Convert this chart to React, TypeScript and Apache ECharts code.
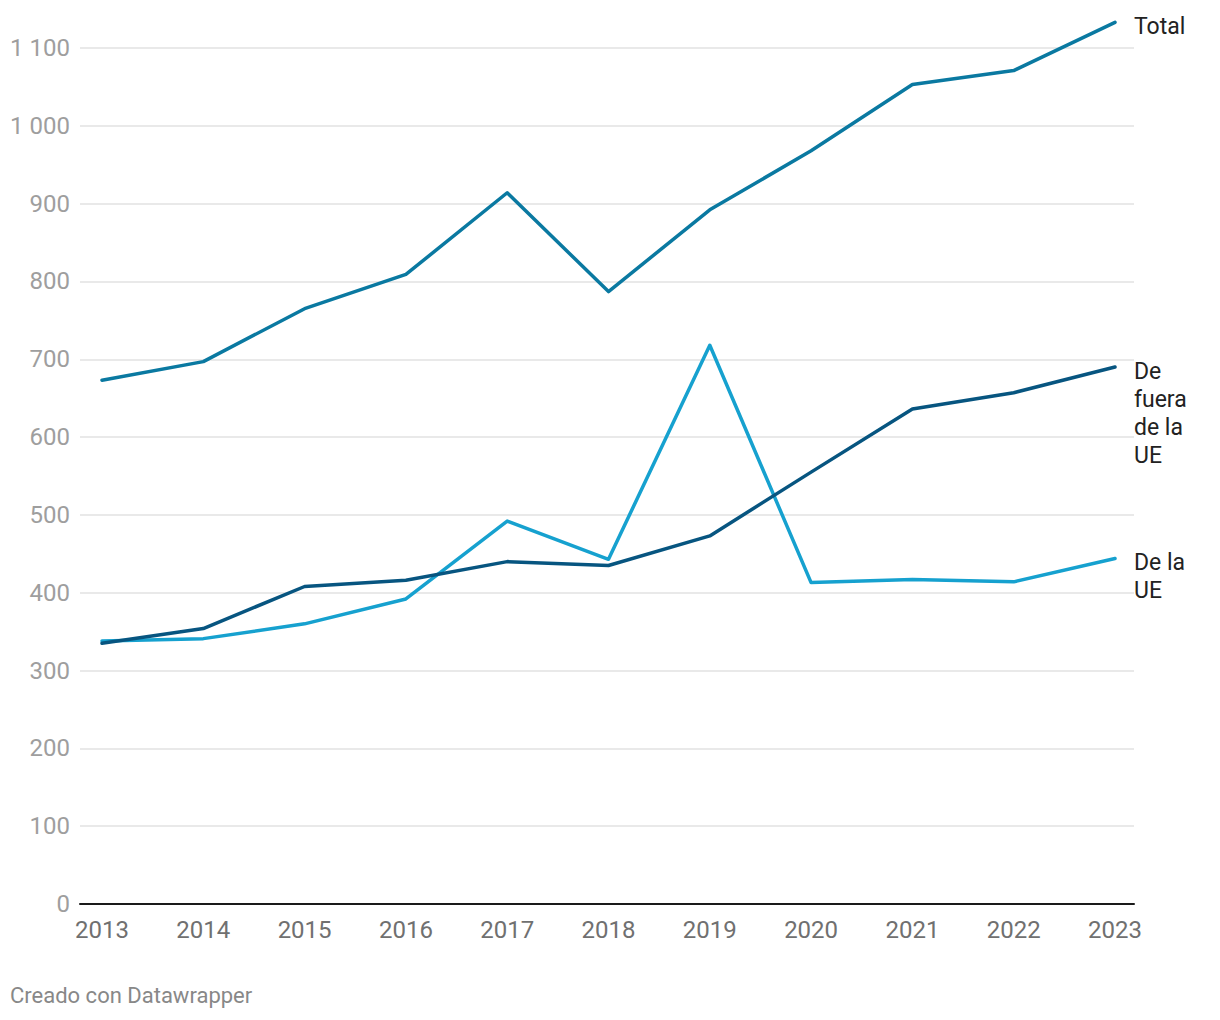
import React, { useEffect, useRef } from "react";
import * as echarts from "echarts";

const years = ["2013", "2014", "2015", "2016", "2017", "2018", "2019", "2020", "2021", "2022", "2023"];
const total = [673, 697, 765, 809, 914, 787, 892, 968, 1053, 1071, 1133];
const deFuera = [335, 354, 408, 416, 440, 435, 473, 555, 636, 657, 690];
const deLaUE = [338, 341, 360, 392, 492, 443, 718, 413, 417, 414, 444];
const seriesNames = ["Total", "De fuera de la UE", "De la UE"];
const endLabels = ["Total", "De\nfuera\nde la\nUE", "De la\nUE"];
const yTicks = { min: 0, max: 1100, interval: 100 };

const colors = ["#0a79a1", "#075580", "#16a1cf"];

export default function App() {
  const ref = useRef<HTMLDivElement>(null);
  useEffect(() => {
    const chart = echarts.init(ref.current!, null, { renderer: "svg" });
    const fmt = (v: number) => String(v).replace(/\B(?=(\d{3})+(?!\d))/g, " ");
    const dataSets = [total, deFuera, deLaUE];
    chart.setOption({
      animation: false,
      textStyle: { fontFamily: "Roboto" },
      grid: [
        { left: 80, right: 86, top: 48, bottom: 116 },
        { left: 102, right: 105, top: 48, bottom: 116 },
      ],
      xAxis: [
        {
          gridIndex: 0,
          type: "value",
          min: 0,
          max: 1,
          axisLine: { show: true, lineStyle: { color: "#1a1a1a", width: 2 } },
          axisTick: { show: false },
          axisLabel: { show: false },
          splitLine: { show: false },
        },
        {
          gridIndex: 1,
          type: "category",
          boundaryGap: false,
          data: years,
          axisLine: { show: false },
          axisTick: { show: false },
          axisLabel: { color: "#707070", fontSize: 24, margin: 14, fontFamily: "Roboto" },
          splitLine: { show: false },
        },
      ],
      yAxis: [
        {
          gridIndex: 0,
          type: "value",
          min: yTicks.min,
          max: yTicks.max,
          interval: yTicks.interval,
          axisLine: { show: false },
          axisTick: { show: false },
          axisLabel: { color: "#9e9e9e", fontSize: 24, margin: 10, formatter: fmt, fontFamily: "Roboto" },
          splitLine: { show: true, lineStyle: { color: "#e2e2e2", width: 1.5 } },
        },
        {
          gridIndex: 1,
          type: "value",
          min: yTicks.min,
          max: yTicks.max,
          interval: yTicks.interval,
          show: false,
        },
      ],
      series: dataSets.map((d, i) => ({
        name: seriesNames[i],
        type: "line",
        xAxisIndex: 1,
        yAxisIndex: 1,
        data: d,
        symbol: "none",
        clip: false,
        lineStyle: { color: colors[i], width: 3.5, cap: "round", join: "round" },
        itemStyle: { color: colors[i] },
        z: i === 1 ? 3 : 2,
        endLabel: {
          show: true,
          formatter: () => endLabels[i],
          color: "#222",
          fontSize: 23,
          lineHeight: 28,
          fontFamily: "Roboto",
          distance: 19,
          align: "left",
          verticalAlign: i === 0 ? "middle" : "top",
          offset: i === 0 ? [0, 4] : [0, -10],
        },
      })),
      graphic: [
        {
          type: "text",
          left: 10,
          top: 984,
          style: { text: "Creado con Datawrapper", fill: "#888", fontSize: 22, fontFamily: "Roboto" },
        },
      ],
    });
    return () => chart.dispose();
  }, []);
  return <div ref={ref} style={{ position: "absolute", left: 0, top: 0, width: 1220, height: 1020 }} />;
}
